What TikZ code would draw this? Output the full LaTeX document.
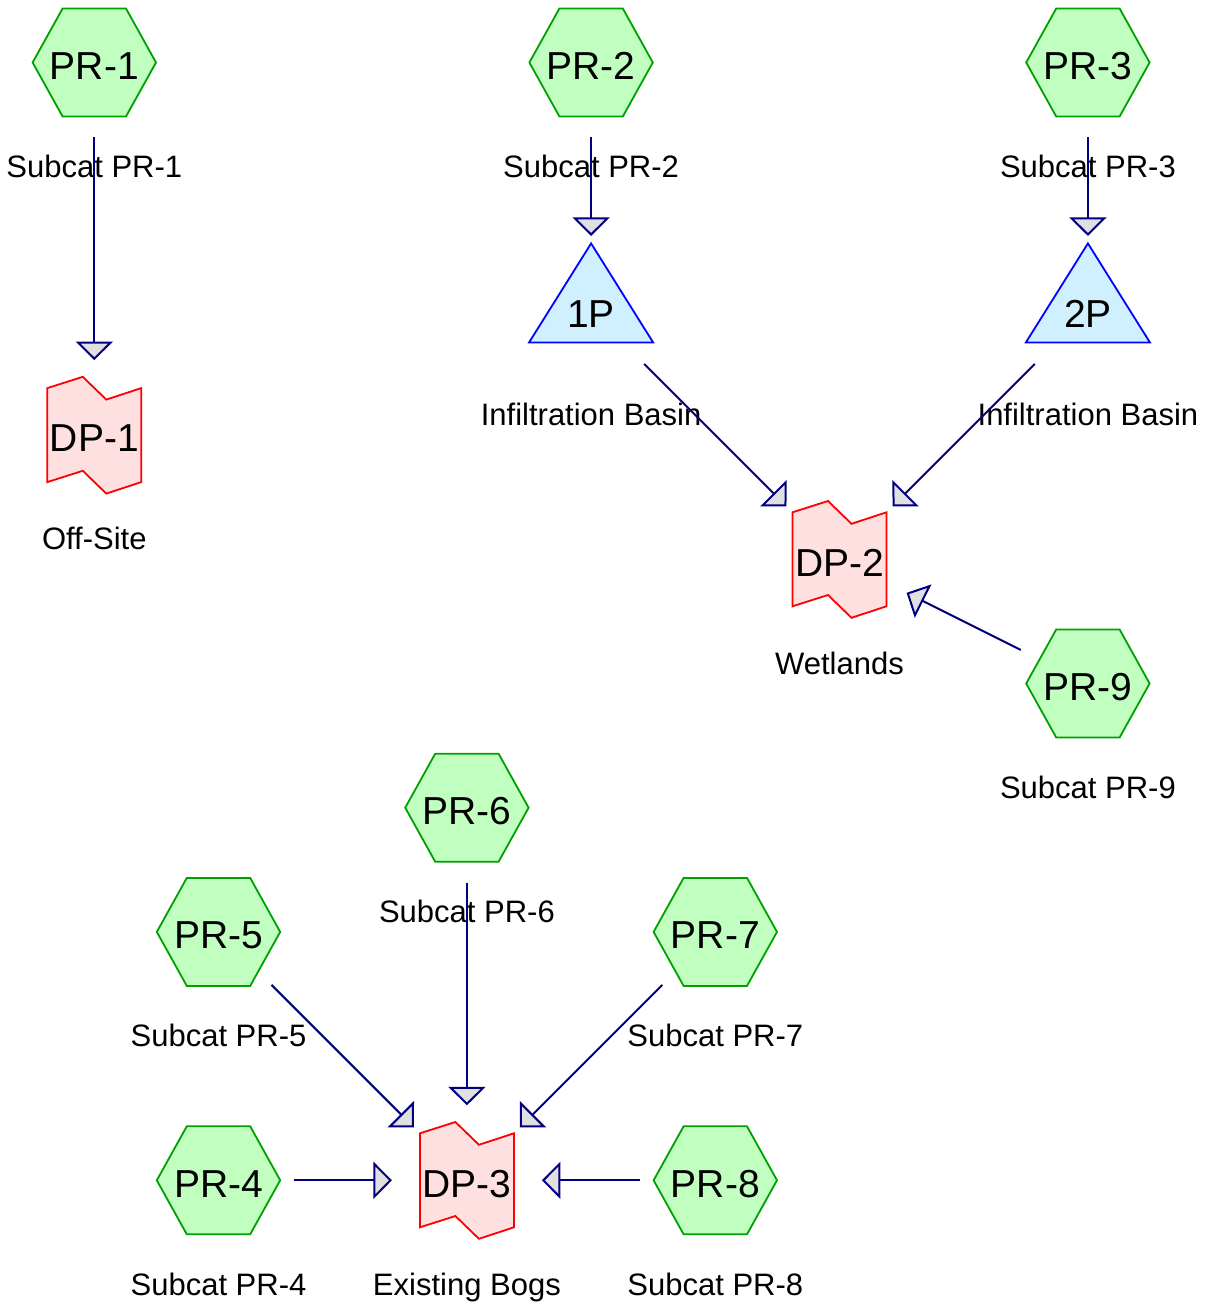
\documentclass[tikz,border=0pt]{standalone}
\usepackage{fontspec}
\setmainfont{Liberation Sans}
\usetikzlibrary{arrows.meta}
\definecolor{hexfill}{RGB}{192,255,192}
\definecolor{hexdraw}{RGB}{0,160,0}
\definecolor{pondfill}{RGB}{208,240,255}
\definecolor{ponddraw}{RGB}{0,0,255}
\definecolor{dpfill}{RGB}{255,224,224}
\definecolor{dpdraw}{RGB}{255,0,0}
\definecolor{flowline}{RGB}{0,0,128}
\definecolor{tipfill}{RGB}{224,224,224}
\begin{document}
\begin{tikzpicture}[x=1pt,y=-1pt,
  hexpic/.pic={\draw[fill=hexfill,draw=hexdraw,line width=1.8pt] (-61.7,0) -- (-31.7,-54) -- (31.7,-54) -- (61.7,0) -- (31.7,54) -- (-31.7,54) -- cycle;},
  pondpic/.pic={\draw[fill=pondfill,draw=ponddraw,line width=1.8pt] (0,-67.5) -- (62,31.5) -- (-62,31.5) -- cycle;},
  dppic/.pic={\draw[fill=dpfill,draw=dpdraw,line width=1.8pt] (-47,-47) -- (-11.5,-58.3) -- (12,-35.5) -- (47,-47) -- (47,47) -- (12,58.5) -- (-11.5,35.7) -- (-47,47) -- cycle;},
  idtext/.style={font=\fontsize{39}{41}\selectfont, inner sep=0pt, text height=33.6pt, text depth=0pt},
  lbl/.style={font=\fontsize{31}{33}\selectfont, inner sep=0pt, anchor=base},
  flow/.style={draw=flowline, line width=2pt, -{Triangle[length=18.5pt,width=37pt,fill=tipfill]}, shorten <=75pt, shorten >=75pt}
]
\useasboundingbox (0,0) rectangle (1208,1305);

% shapes
\pic at (94.3,62.5) {hexpic};
\pic at (591.1,62.5) {hexpic};
\pic at (1087.9,62.5) {hexpic};
\pic at (591.1,310.9) {pondpic};
\pic at (1087.9,310.9) {pondpic};
\pic at (94.3,435.1) {dppic};
\pic at (839.5,559.3) {dppic};
\pic at (1087.9,683.5) {hexpic};
\pic at (466.9,807.7) {hexpic};
\pic at (218.5,931.9) {hexpic};
\pic at (715.3,931.9) {hexpic};
\pic at (218.5,1180.3) {hexpic};
\pic at (466.9,1180.3) {dppic};
\pic at (715.3,1180.3) {hexpic};

% identifiers
\node[idtext] (pr1) at (94.3,62.5) {PR-1};
\node[idtext] (pr2) at (591.1,62.5) {PR-2};
\node[idtext] (pr3) at (1087.9,62.5) {PR-3};
\node[idtext] (p1) at (591.1,310.9) {1P};
\node[idtext] (p2) at (1087.9,310.9) {2P};
\node[idtext] (dp1) at (94.3,435.1) {DP-1};
\node[idtext] (dp2) at (839.5,559.3) {DP-2};
\node[idtext] (pr9) at (1087.9,683.5) {PR-9};
\node[idtext] (pr6) at (466.9,807.7) {PR-6};
\node[idtext] (pr5) at (218.5,931.9) {PR-5};
\node[idtext] (pr7) at (715.3,931.9) {PR-7};
\node[idtext] (pr4) at (218.5,1180.3) {PR-4};
\node[idtext] (dp3) at (466.9,1180.3) {DP-3};
\node[idtext] (pr8) at (715.3,1180.3) {PR-8};

% labels
\node[lbl] (lpr1) at (94.3,177.2) {Subcat PR-1};
\node[lbl] (lpr2) at (591.1,177.2) {Subcat PR-2};
\node[lbl] (lpr3) at (1087.9,177.2) {Subcat PR-3};
\node[lbl] (lp1) at (591.1,425.6) {Infiltration Basin};
\node[lbl] (lp2) at (1087.9,425.6) {Infiltration Basin};
\node[lbl] (ldp1) at (94.3,549.8) {Off-Site};
\node[lbl] (ldp2) at (839.5,674.0) {Wetlands};
\node[lbl] (lpr9) at (1087.9,798.2) {Subcat PR-9};
\node[lbl] (lpr6) at (466.9,922.4) {Subcat PR-6};
\node[lbl] (lpr5) at (218.5,1046.6) {Subcat PR-5};
\node[lbl] (lpr7) at (715.3,1046.6) {Subcat PR-7};
\node[lbl] (lpr4) at (218.5,1295.0) {Subcat PR-4};
\node[lbl] (ldp3) at (466.9,1295.0) {Existing Bogs};
\node[lbl] (lpr8) at (715.3,1295.0) {Subcat PR-8};

% connectors
\draw[flow] (pr1.center) -- (dp1.center);
\draw[flow] (pr2.center) -- (p1.center);
\draw[flow] (pr3.center) -- (p2.center);
\draw[flow] (p1.center) -- (dp2.center);
\draw[flow] (p2.center) -- (dp2.center);
\draw[flow] (pr9.center) -- (dp2.center);
\draw[flow] (pr6.center) -- (dp3.center);
\draw[flow] (pr5.center) -- (dp3.center);
\draw[flow] (pr7.center) -- (dp3.center);
\draw[flow] (pr4.center) -- (dp3.center);
\draw[flow] (pr8.center) -- (dp3.center);
\end{tikzpicture}
\end{document}
